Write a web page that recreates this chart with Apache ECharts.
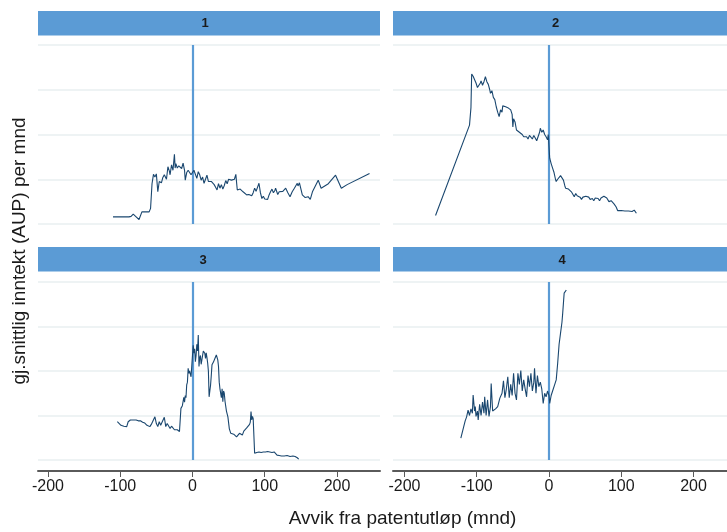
<!DOCTYPE html>
<html>
<head>
<meta charset="utf-8">
<script src="https://cdn.jsdelivr.net/npm/echarts@6/dist/echarts.min.js"></script>
<style>html,body{margin:0;padding:0;background:#fff}#c{width:727px;height:532px}</style>
</head>
<body>
<div id="c"></div>
<script>
const panelLabels = ['1', '2', '3', '4'];
const xTicks = [-200, -100, 0, 100, 200];
const xTitle = 'Avvik fra patentutløp (mnd)';
const yTitle = 'gj.snittlig inntekt (AUP) per mnd';

const p1 = [[-110,0.16],[-100,0.16],[-88,0.16],[-85,0.17],[-82,0.22],[-78,0.16],[-74,0.10],[-70,0.27],[-65,0.27],[-60,0.27],[-58,0.35],[-56,0.9],[-54,1.11],[-52,1.05],[-50,1.12],[-48,0.72],[-46,0.95],[-45,0.98],[-43,0.92],[-41,1.04],[-39,1.1],[-38,1.13],[-36,1.0],[-34,1.28],[-32,1.18],[-31,1.1],[-29,1.32],[-27,1.2],[-25,1.56],[-24,1.25],[-23,1.35],[-21,1.25],[-19,1.3],[-17,1.28],[-15,1.24],[-13,1.36],[-11,1.2],[-10,0.98],[-8,1.15],[-6,1.2],[-4,1.17],[-2,1.1],[0,1.15],[2,1.2],[4,1.17],[6,1.02],[8,1.17],[10,1.1],[12,0.98],[14,1.05],[16,0.91],[18,1.0],[20,1.09],[22,0.95],[24,0.91],[26,0.95],[28,0.98],[30,0.88],[32,0.82],[34,0.76],[36,0.9],[38,0.8],[40,0.88],[42,0.78],[44,0.86],[46,0.97],[48,0.9],[50,1.0],[52,1.02],[54,0.98],[56,0.97],[58,1.0],[60,1.11],[62,0.76],[64,0.8],[66,0.78],[68,0.75],[70,0.72],[72,0.68],[75,0.65],[78,0.66],[80,0.63],[82,0.63],[84,0.7],[86,0.8],[88,0.73],[90,0.7],[92,0.91],[94,0.7],[96,0.57],[98,0.62],[100,0.56],[102,0.58],[104,0.55],[106,0.65],[108,0.72],[110,0.78],[112,0.7],[114,0.75],[115,0.8],[118,0.66],[120,0.72],[122,0.75],[125,0.73],[129,0.8],[132,0.7],[135,0.61],[138,0.72],[141,0.8],[143,0.82],[145,0.91],[146,0.85],[148,0.92],[150,0.88],[152,0.65],[156,0.59],[160,0.61],[163,0.55],[166,0.72],[170,0.85],[174,0.98],[178,0.8],[188,0.9],[198,1.09],[206,0.8],[214,0.88],[245,1.13]];

const p2 = [[-157,0.19],[-110,2.21],[-108,2.6],[-107,3.35],[-105,3.3],[-103,3.26],[-101,3.15],[-99,3.05],[-97,3.03],[-95,3.15],[-94,3.2],[-92,3.1],[-90,3.18],[-88,3.29],[-86,3.18],[-84,3.12],[-82,3.0],[-81,2.92],[-79,2.98],[-77,2.83],[-75,2.78],[-73,2.62],[-71,2.5],[-69,2.4],[-67,2.55],[-65,2.5],[-64,2.64],[-62,2.6],[-60,2.62],[-57,2.6],[-55,2.58],[-53,2.55],[-51,2.45],[-50,2.17],[-49,2.35],[-47,2.28],[-46,2.25],[-45,2.1],[-43,2.12],[-41,2.05],[-39,2.08],[-37,2.0],[-35,1.95],[-33,1.92],[-31,1.95],[-29,1.9],[-27,1.98],[-25,1.95],[-23,1.9],[-21,1.98],[-19,1.92],[-17,1.86],[-15,1.84],[-13,2.05],[-12,2.14],[-10,2.05],[-8,2.1],[-6,2.0],[-4,1.95],[-2,1.88],[-1,2.0],[1,1.47],[3,1.35],[5,1.25],[7,1.15],[9,1.0],[10,0.95],[12,1.0],[14,1.02],[16,1.08],[18,1.06],[20,0.98],[22,0.85],[23,0.8],[25,0.82],[27,0.78],[29,0.82],[31,0.72],[33,0.68],[35,0.61],[37,0.68],[39,0.63],[41,0.65],[43,0.6],[45,0.55],[47,0.6],[49,0.58],[51,0.62],[53,0.58],[55,0.6],[57,0.55],[60,0.57],[62,0.52],[64,0.58],[66,0.6],[68,0.57],[70,0.52],[72,0.58],[74,0.55],[76,0.62],[78,0.6],[80,0.58],[83,0.5],[86,0.52],[88,0.49],[90,0.45],[93,0.38],[95,0.3],[100,0.3],[105,0.29],[110,0.29],[115,0.28],[118,0.31],[121,0.24]];

const p3 = [[-104,0.86],[-102,0.82],[-99,0.78],[-97,0.76],[-95,0.76],[-93,0.78],[-91,0.75],[-89,0.86],[-86,0.9],[-82,0.9],[-78,0.9],[-75,0.88],[-72,0.88],[-69,0.85],[-66,0.83],[-63,0.78],[-61,0.76],[-59,0.75],[-57,0.8],[-55,0.78],[-52,0.97],[-50,0.82],[-48,0.75],[-46,0.86],[-44,0.78],[-42,0.8],[-39,0.96],[-37,0.75],[-35,0.82],[-33,0.78],[-31,0.71],[-29,0.76],[-27,0.72],[-25,0.68],[-23,0.72],[-21,0.68],[-19,0.70],[-18,0.64],[-16,1.16],[-14,1.22],[-12,1.41],[-11,1.3],[-10,1.45],[-9,1.40],[-8,1.69],[-7,1.75],[-6,2.06],[-5,1.95],[-4,2.0],[-2,1.87],[-1,1.9],[1,2.58],[2,2.4],[3,2.5],[4,2.21],[5,2.35],[6,2.6],[7,2.45],[8,2.81],[9,2.1],[10,2.3],[11,2.35],[12,2.15],[13,2.25],[15,2.45],[17,2.4],[18,2.28],[19,2.41],[20,2.3],[21,2.18],[22,2.0],[23,1.42],[24,1.55],[25,1.68],[26,1.9],[27,2.14],[29,2.2],[31,2.28],[33,2.36],[35,2.25],[36,2.1],[37,1.75],[38,1.6],[40,1.4],[41,1.6],[42,1.31],[43,1.55],[44,1.5],[45,1.32],[47,1.1],[49,0.97],[51,0.7],[53,0.6],[55,0.56],[57,0.58],[59,0.55],[61,0.52],[63,0.56],[65,0.6],[67,0.58],[69,0.56],[71,0.65],[73,0.68],[75,0.72],[77,0.75],[79,0.8],[80,0.85],[81,1.09],[82,0.9],[83,0.98],[84,0.93],[85,0.96],[86,0.15],[89,0.17],[92,0.18],[95,0.17],[98,0.18],[101,0.18],[104,0.19],[107,0.18],[110,0.17],[113,0.18],[115,0.17],[117,0.11],[120,0.10],[123,0.09],[127,0.09],[131,0.1],[135,0.08],[139,0.09],[142,0.08],[145,0.05],[147,0.02]];

const p4 = [[-122,0.49],[-120,0.62],[-118,0.75],[-116,0.88],[-114,0.97],[-112,1.12],[-110,1.0],[-108,1.15],[-106,1.05],[-105,1.46],[-103,1.1],[-102,1.2],[-101,0.98],[-99,1.1],[-98,0.9],[-96,1.25],[-94,1.0],[-92,1.3],[-90,1.05],[-89,1.42],[-87,1.0],[-85,1.35],[-83,0.98],[-81,1.2],[-80,1.72],[-78,1.1],[-76,1.12],[-74,1.15],[-71,1.2],[-68,1.39],[-66,1.35],[-65,1.5],[-63,1.78],[-61,1.4],[-59,1.6],[-57,1.87],[-55,1.4],[-53,1.7],[-51,1.45],[-49,1.95],[-47,1.5],[-45,1.35],[-43,1.95],[-41,1.7],[-39,2.01],[-37,1.55],[-35,1.8],[-33,1.6],[-31,1.42],[-29,1.9],[-27,1.65],[-25,1.95],[-23,1.55],[-21,1.75],[-20,2.06],[-18,1.5],[-16,1.9],[-14,1.65],[-12,1.75],[-10,1.6],[-8,1.27],[-6,1.5],[-4,1.42],[-2,1.55],[0,1.45],[1,1.27],[3,1.45],[5,1.55],[8,1.7],[10,1.8],[12,2.17],[14,2.6],[16,2.85],[18,3.1],[19,3.3],[21,3.75],[24,3.82]];

const seriesData = [p1, p2, p3, p4];

const FONT = '"Liberation Sans", Arial, sans-serif';
const HEAD = '#5b9bd5';
const LINE = '#1a476f';
const GRIDC = '#e8eff1';

const grids = [
  {left: 38, top: 45, width: 342, height: 179},
  {left: 393, top: 45, width: 334, height: 179},
  {left: 38, top: 282, width: 342, height: 178},
  {left: 393, top: 282, width: 334, height: 178}
];
const xRanges = [[-213.8, 259.5], [-215.9, 246.4], [-213.8, 259.5], [-215.9, 246.4]];
const headerBoxes = [[38, 11, 342], [393, 11, 334], [38, 247, 342], [393, 247, 334]];
const headerTextPos = [[205, 23.5], [555.5, 23.5], [203, 260], [562, 260]];

const xAxes = grids.map((g, i) => {
  const bottomRow = i >= 2;
  return {
    type: 'value', gridIndex: i, min: xRanges[i][0], max: xRanges[i][1],
    offset: bottomRow ? 11 : 0,
    axisLine: {show: bottomRow, onZero: false, lineStyle: {color: '#5a5a5a', width: 2}},
    axisTick: {show: bottomRow, length: 6, customValues: xTicks, lineStyle: {color: '#5a5a5a', width: 1}},
    axisLabel: {show: bottomRow, customValues: xTicks, margin: 8, fontSize: 16, color: '#1a1a1a', fontFamily: FONT},
    splitLine: {show: false}
  };
});
const yAxes = grids.map((g, i) => ({
  type: 'value', gridIndex: i, min: 0, max: 4, interval: 1,
  axisLine: {show: false}, axisTick: {show: false}, axisLabel: {show: false},
  splitLine: {show: true, lineStyle: {color: GRIDC, width: 1.5}}
}));

const series = seriesData.map((d, i) => ({
  type: 'line', xAxisIndex: i, yAxisIndex: i, data: d, showSymbol: false, symbol: 'none',
  lineStyle: {color: LINE, width: 1.1}, z: 3, animation: false,
  markLine: {
    silent: true, symbol: 'none', animation: false, z: 2,
    label: {show: false},
    lineStyle: {color: HEAD, width: 2.2, type: 'solid'},
    data: [{xAxis: 0}]
  }
}));

const graphics = [];
headerBoxes.forEach((b, i) => {
  graphics.push({type: 'rect', shape: {x: b[0], y: b[1], width: b[2], height: 24.5}, style: {fill: HEAD}, silent: true});
  graphics.push({type: 'text', x: headerTextPos[i][0], y: headerTextPos[i][1],
    style: {text: panelLabels[i], font: 'bold 13px ' + FONT, fill: '#1a1a1a', align: 'center', verticalAlign: 'middle', textAlign: 'center', textVerticalAlign: 'middle'}});
});
graphics.push({type: 'text', x: 402.5, y: 519,
  style: {text: xTitle, font: '19px ' + FONT, fill: '#1a1a1a', align: 'center', verticalAlign: 'middle', textAlign: 'center', textVerticalAlign: 'middle'}});
graphics.push({type: 'text', x: 20, y: 251, rotation: Math.PI / 2,
  style: {text: yTitle, font: '19px ' + FONT, fill: '#1a1a1a', align: 'center', verticalAlign: 'middle', textAlign: 'center', textVerticalAlign: 'middle'}});

const chart = echarts.init(document.getElementById('c'), null, {renderer: 'canvas'});
chart.setOption({
  animation: false,
  backgroundColor: '#ffffff',
  grid: grids,
  xAxis: xAxes,
  yAxis: yAxes,
  series: series,
  graphic: graphics
});
</script>
</body>
</html>
